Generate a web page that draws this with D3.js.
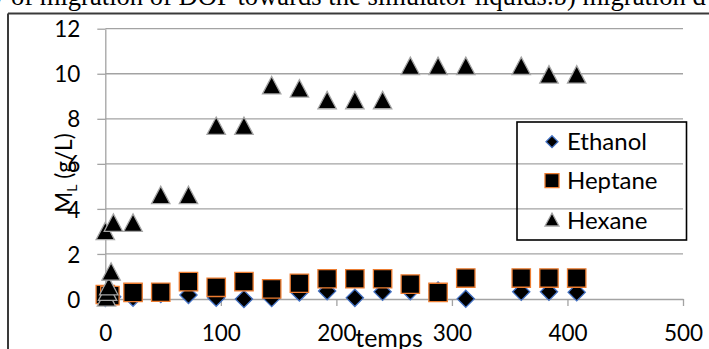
<!DOCTYPE html>
<html>
<head>
<meta charset="utf-8">
<script src="https://cdn.jsdelivr.net/npm/d3@7"></script>
<style>
  html, body { margin: 0; padding: 0; background: #fff; }
  svg { display: block; font-family: Lato, "Open Sans", sans-serif; }
</style>
</head>
<body>
<div id="graphArea"></div>
<script>
// times (x) and values (y) for each liquid
var ethanolT = [0, 6, 24, 48, 72, 96, 120, 144, 168, 192, 216, 240, 264, 288, 312, 360, 384, 408]
var ethanolV = [0.05, 0.1, 0.06, 0.22, 0.18, 0.06, 0.0, 0.04, 0.29, 0.35, 0.05, 0.32, 0.35, 0.38, 0.01, 0.32, 0.32, 0.3]

var heptaneT = [0, 4, 24, 48, 72, 96, 120, 144, 168, 192, 216, 240, 264, 288, 312, 360, 384, 408]
var heptaneV = [0.2, 0.15, 0.29, 0.3, 0.77, 0.52, 0.77, 0.45, 0.7, 0.9, 0.9, 0.9, 0.66, 0.29, 0.93, 0.93, 0.93, 0.93]

var hexaneT = [1, 2, 3, 5, 0, 7, 24, 48, 72, 96, 120, 144, 168, 192, 216, 240, 264, 288, 312, 360, 384, 408]
var hexaneV = [0.05, 0.3, 0.55, 1.2, 3.0, 3.37, 3.37, 4.6, 4.6, 7.67, 7.67, 9.47, 9.33, 8.81, 8.81, 8.81, 10.33, 10.33, 10.33, 10.33, 9.95, 9.95]

var xTicks = [0, 100, 200, 300, 400, 500]
var yTicks = [0, 2, 4, 6, 8, 10, 12]
var seriesNames = ["Ethanol", "Heptane", "Hexane"]

var width = 709
var height = 349

var svg = d3.select("#graphArea")
	.append("svg")
	.attr("width", width)
	.attr("height", height)

// clipped caption from the page above the chart
svg.append("text")
	.attr("x", -9)
	.attr("y", 5)
	.style("font-family", '"Liberation Serif", "Times New Roman", serif')
	.style("font-size", "26.6px")
	.attr("fill", "#000")
	.text("y of migration of DOP towards the simulator liquids.b) migration d")

// outer frame (only top and left edges show)
svg.append("line").attr("x1", 8).attr("x2", width + 5).attr("y1", 13.5).attr("y2", 13.5)
	.attr("stroke", "#3a3a3a").attr("stroke-width", 2)
svg.append("line").attr("x1", 8).attr("x2", 8).attr("y1", 13.5).attr("y2", height + 5)
	.attr("stroke", "#3a3a3a").attr("stroke-width", 2)

var x = d3.scaleLinear().domain([0, 500]).range([105.3, 683])
var y = d3.scaleLinear().domain([0, 12]).range([299, 28.7])

// gridlines
svg.append("g")
	.selectAll("line")
	.data(yTicks.filter(function(d) { return d > 0 }))
	.enter()
	.append("line")
	.attr("x1", x(0))
	.attr("x2", x(500))
	.attr("y1", function(d) { return y(d) })
	.attr("y2", function(d) { return y(d) })
	.attr("stroke", "#a3a3a3")
	.attr("stroke-width", 1.3)

// x axis
var gx = svg.append("g")
	.attr("transform", "translate(0," + y(0) + ")")
	.call(d3.axisBottom(x).tickValues(xTicks).tickSize(7).tickSizeOuter(0).tickFormat(d3.format("d")))
gx.select(".domain").attr("stroke", "#a3a3a3").attr("stroke-width", 1.3)
gx.selectAll(".tick line").attr("stroke", "#a3a3a3").attr("stroke-width", 1.3)
gx.selectAll(".tick text")
	.attr("y", 42)
	.attr("dy", 0)
	.attr("fill", "#000")
	.style("font-family", "Lato, sans-serif")
	.style("font-size", "22.5px")

// y axis
var gy = svg.append("g")
	.attr("transform", "translate(" + x(0) + ",0)")
	.call(d3.axisLeft(y).tickValues(yTicks).tickSize(8).tickSizeOuter(0).tickPadding(17))
gy.select(".domain").attr("stroke", "#a3a3a3").attr("stroke-width", 1.3)
gy.selectAll(".tick line").attr("stroke", "#a3a3a3").attr("stroke-width", 1.3)
gy.selectAll(".tick text")
	.attr("dy", "0.36em")
	.attr("fill", "#000")
	.style("font-family", "Lato, sans-serif")
	.style("font-size", "22.5px")

// axis titles
svg.append("text")
	.attr("x", 389)
	.attr("y", 347)
	.attr("text-anchor", "middle")
	.style("font-size", "25px")
	.text("temps")

var yTitle = svg.append("text")
	.attr("transform", "translate(72,173) rotate(-90)")
	.attr("text-anchor", "middle")
	.style("font-size", "22.5px")
yTitle.append("tspan").text("M")
yTitle.append("tspan").attr("dy", 5).style("font-size", "14px").text("L")
yTitle.append("tspan").attr("dy", -5).text(" (g/L)")

// marker shapes
function diamond(s) {
	return "M0," + (-s) + "L" + s + ",0L0," + s + "L" + (-s) + ",0Z"
}
function square(s) {
	return "M" + (-s) + "," + (-s) + "H" + s + "V" + s + "H" + (-s) + "Z"
}
function triangle(s) {
	return "M0," + (-s) + "L" + s + "," + (s - 1) + "L" + (-s) + "," + (s - 1) + "Z"
}

function zip(t, v) {
	return t.map(function(d, i) { return { t: d, v: v[i] } })
}

var series = [
	{ data: zip(ethanolT, ethanolV), path: diamond(8.6), stroke: "#4472c4" },
	{ data: zip(heptaneT, heptaneV), path: square(9.2), stroke: "#ed7d31" },
	{ data: zip(hexaneT, hexaneV), path: triangle(9.2), stroke: "#a5a5a5" }
]

series.forEach(function(s) {
	svg.append("g")
		.selectAll("path")
		.data(s.data)
		.enter()
		.append("path")
		.attr("transform", function(d) { return "translate(" + x(d.t) + "," + y(d.v) + ")" })
		.attr("d", s.path)
		.attr("fill", "#000")
		.attr("stroke", s.stroke)
		.attr("stroke-width", 1.3)
})

// legend
var legend = svg.append("g")
legend.append("rect")
	.attr("x", 517)
	.attr("y", 122)
	.attr("width", 169.5)
	.attr("height", 118)
	.attr("fill", "none")
	.attr("stroke", "#000")
	.attr("stroke-width", 1.6)

var legendPaths = [diamond(6), square(7), triangle(7)]
var legendRows = [141.7, 180.7, 220]
seriesNames.forEach(function(name, i) {
	legend.append("path")
		.attr("transform", "translate(552," + legendRows[i] + ")")
		.attr("d", legendPaths[i])
		.attr("fill", "#000")
		.attr("stroke", series[i].stroke)
		.attr("stroke-width", 1.3)
	legend.append("text")
		.attr("x", 567)
		.attr("y", legendRows[i])
		.attr("dy", "0.36em")
		.style("font-size", "24px")
		.text(name)
})
</script>
</body>
</html>
